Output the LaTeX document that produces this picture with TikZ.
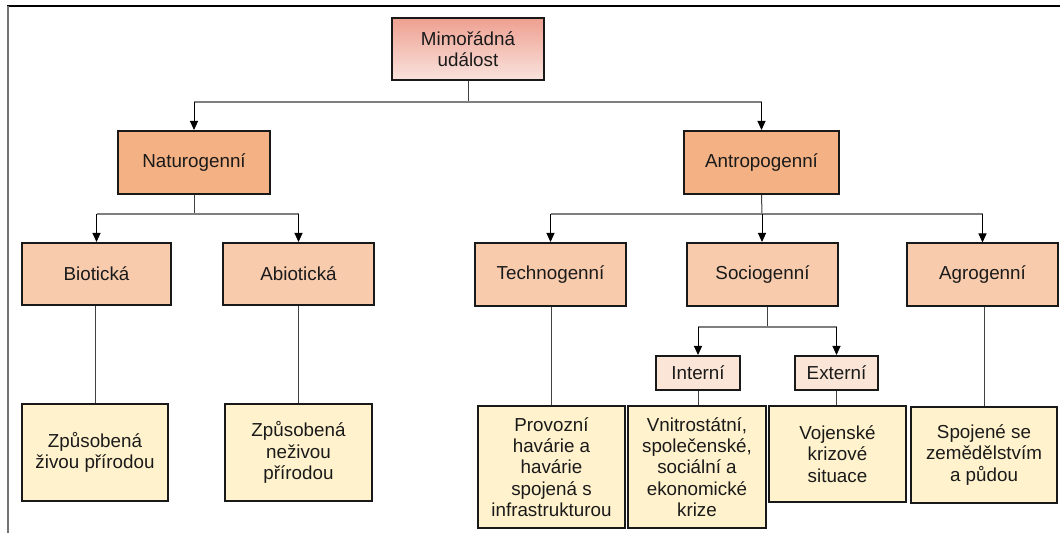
\documentclass[tikz,border=0pt]{standalone}
\usepackage{fontspec}
\setmainfont{Liberation Sans}
\usetikzlibrary{arrows.meta}
\definecolor{cTop}{HTML}{EEA090}
\definecolor{cBot}{HTML}{F9E3DE}
\definecolor{cLone}{HTML}{F4B183}
\definecolor{cLtwo}{HTML}{F8CBAD}
\definecolor{cLthree}{HTML}{FBE5D6}
\definecolor{cLeaf}{HTML}{FFF2CC}
\definecolor{cTxt}{HTML}{1A1A1A}
\definecolor{cBar}{HTML}{7F7F7F}
\definecolor{cStem}{HTML}{404040}
\begin{document}
\begin{tikzpicture}[x=0.5pt,y=-0.5pt,
  box/.style={draw=black!90, line width=1pt, inner sep=0pt, align=center,
    font=\fontsize{9.4}{10.7}\selectfont, text=cTxt},
  rootbox/.style={box, top color=cTop, bottom color=cBot, minimum width=76pt, minimum height=31pt},
  lone/.style={box, fill=cLone, minimum height=31.5pt},
  ltwo/.style={box, fill=cLtwo, minimum height=31.5pt},
  lthree/.style={box, fill=cLthree, minimum height=17pt},
  leaf/.style={box, fill=cLeaf},
  bar/.style={draw=cBar, line width=0.6pt},
  stem/.style={draw=cStem, line width=0.5pt},
  arr/.style={draw=black, line width=0.5pt, -{Triangle[length=4.5pt,width=4pt]}},
  frame/.style={line width=1pt}
]
\useasboundingbox (0,0) rectangle (1060,533);
% frame
\draw[frame, draw=black] (7,6) -- (1060,6);
\draw[frame, draw=black!55] (7.5,6) -- (7.5,533);

% nodes
\node[rootbox] (top) at (468,49) {Mimořádná\\událost};
\node[lone, minimum width=76pt] (nat) at (194,162.5) {Naturogenní};
\node[lone, minimum width=77.5pt] (ant) at (761.5,162.5) {Antropogenní};

\node[ltwo, minimum width=74.5pt, minimum height=31pt] (bio) at (96.5,274) {Biotická};
\node[ltwo, minimum width=75.5pt, minimum height=31pt] (abio) at (298.5,274) {Abiotická};
\node[ltwo, minimum width=75.5pt] (tech) at (550.5,274.5) {Technogenní};
\node[ltwo, minimum width=75.5pt] (soc) at (762.5,274.5) {Sociogenní};
\node[ltwo, minimum width=75.5pt] (agro) at (982.5,275) {Agrogenní};

\node[lthree, minimum width=42pt] (int) at (698,373) {Interní};
\node[lthree, minimum width=41.5pt] (ext) at (836.5,373) {Externí};

\node[leaf, minimum width=73pt, minimum height=48.5pt] (b1) at (95,452.5) {Způsobená\\živou přírodou};
\node[leaf, minimum width=73.5pt, minimum height=48.5pt] (b2) at (298.5,452.5) {Způsobená\\neživou\\přírodou};
\node[leaf, minimum width=73.5pt, minimum height=61pt] (b3) at (551.5,467) {Provozní\\havárie a\\havárie\\spojená s\\infrastrukturou};
\node[leaf, minimum width=69pt, minimum height=61pt] (b4) at (697,467) {Vnitrostátní,\\společenské,\\sociální a\\ekonomické\\krize};
\node[leaf, minimum width=68.5pt, minimum height=48pt] (b5) at (837.5,454) {Vojenské\\krizové\\situace};
\node[leaf, minimum width=73pt, minimum height=48pt] (b6) at (984,455) {Spojené se\\zemědělstvím\\a půdou};

% junctions
\coordinate (j0) at (468,102);
\coordinate (j1) at (194,214);
\coordinate (j2) at (762,214);
\coordinate (j3) at (767,327);

% level 0 -> 1
\draw[stem] (top.south) -- (j0);
\draw[bar] (nat.north |- j0) -- (ant.north |- j0);
\draw[arr] (nat.north |- j0) -- (nat.north);
\draw[arr] (ant.north |- j0) -- (ant.north);

% Naturogenni -> children
\draw[stem] (nat.south) -- (j1);
\draw[bar] (bio.north |- j1) -- (abio.north |- j1);
\draw[arr] (bio.north |- j1) -- (bio.north);
\draw[arr] (abio.north |- j1) -- (abio.north);

% Antropogenni -> children
\draw[stem] (ant.south) -- (j2);
\draw[bar] (tech.north |- j2) -- (agro.north |- j2);
\draw[arr] (tech.north |- j2) -- (tech.north);
\draw[arr] (j2) -- (soc.north -| j2);
\draw[arr] (agro.north |- j2) -- (agro.north);

% Sociogenni -> Interni/Externi
\draw[stem] (j3 |- soc.south) -- (j3);
\draw[bar] (int.north |- j3) -- (ext.north |- j3);
\draw[arr] (int.north |- j3) -- (int.north);
\draw[arr] (ext.north |- j3) -- (ext.north);

% leaves
\draw[stem] (b1.north |- bio.south) -- (b1.north);
\draw[stem] (abio.south) -- (abio.south |- b2.north);
\draw[stem] (b3.north |- tech.south) -- (b3.north);
\draw[stem] (int.south) -- (int.south |- b4.north);
\draw[stem] (ext.south) -- (ext.south |- b5.north);
\draw[stem] (b6.north |- agro.south) -- (b6.north);
\end{tikzpicture}
\end{document}
